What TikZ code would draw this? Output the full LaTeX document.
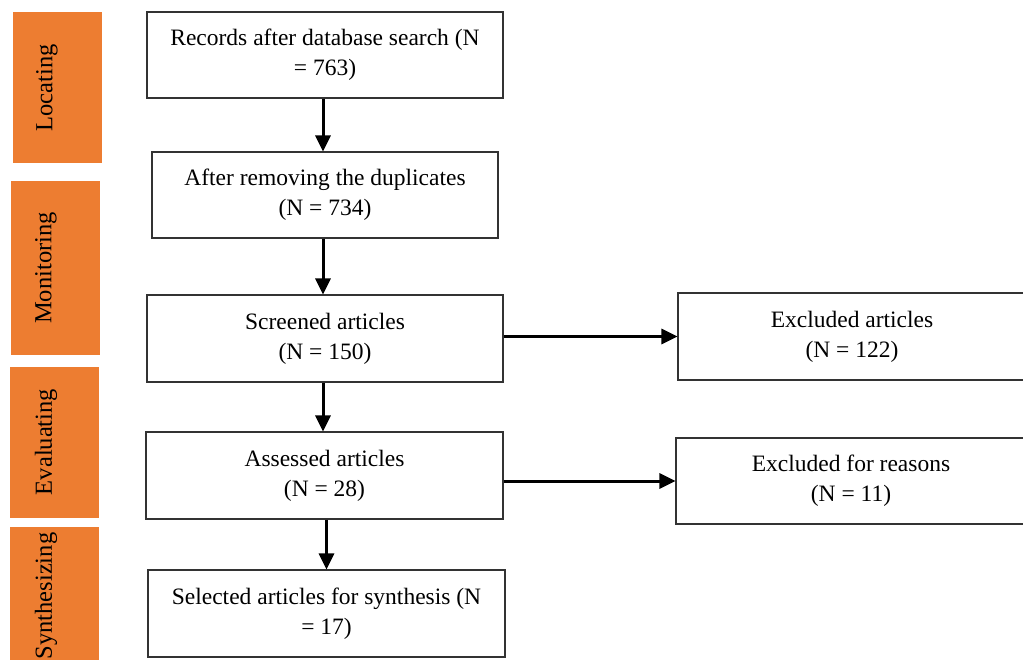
\documentclass[tikz,border=0pt]{standalone}
\usepackage{fontspec}
\setmainfont{Liberation Serif}
\usepackage{tikz}
\usetikzlibrary{calc,arrows.meta,positioning}
\definecolor{phaseorange}{RGB}{237,125,49}
\tikzset{
    stagebox/.style={draw=black!80, line width=1.1pt, rectangle, align=center, inner sep=0pt,
        font=\fontsize{23.5}{30}\selectfont},
    phasebar/.style={fill=phaseorange, draw=none, rectangle, inner sep=0pt},
    phasetext/.style={rotate=90, font=\fontsize{24.5}{28}\selectfont},
    flow/.style={line width=3pt, -{Triangle[length=16pt,width=15pt]}},
}

\begin{document}
\begin{tikzpicture}[x=1pt,y=1pt,yscale=-1,xscale=1]
    \useasboundingbox (0,0) rectangle (1023,660); %set diagram to 1023 by 660

    % Phase bars
    \node [phasebar, minimum width=89, minimum height=151] (loc) at (57.5,87.5) {};
    \node [phasetext] (loct) at (47,88) {Locating};
    \node [phasebar, minimum width=89, minimum height=174] (mon) at (55,268) {};
    \node [phasetext] (mont) at (46,268) {Monitoring};
    \node [phasebar, minimum width=89, minimum height=151] (eva) at (54.5,442.5) {};
    \node [phasetext] (evat) at (46,442) {Evaluating};
    \node [phasebar, minimum width=89, minimum height=140] (syn) at (54.5,597) {};
    \node [phasetext] (synt) at (46,596) {Synthesizing};

    % Main flow
    \node [stagebox, minimum width=356, minimum height=86] (rec) at (325,55) {Records after database search (N\\ = 763)};
    \node [stagebox, minimum width=346, minimum height=86] (dup) at (325,195) {After removing the duplicates\\ (N = 734)};
    \node [stagebox, minimum width=356, minimum height=87] (scr) at (325,338.5) {Screened articles\\ (N = 150)};
    \node [stagebox, minimum width=357, minimum height=87] (ass) at (324.5,475.5) {Assessed articles\\ (N = 28)};
    \node [stagebox, minimum width=357, minimum height=87] (sel) at (326.5,613.5) {Selected articles for synthesis (N\\ = 17)};

    % Excluded
    \node [stagebox, minimum width=348, minimum height=87] (exc) at (852,336.5) {Excluded articles\\ (N = 122)};
    \node [stagebox, minimum width=350, minimum height=86] (rea) at (851,481) {Excluded for reasons\\ (N = 11)};

    % Arrows
    \draw [flow] ($(rec.south)+(-2,0)$) -- ($(rec.south |- dup.north)+(-2,0)$);
    \draw [flow] ($(dup.south)+(-2,0)$) -- ($(dup.south |- scr.north)+(-2,0)$);
    \draw [flow] ($(scr.south)+(-2,0)$) -- ($(scr.south |- ass.north)+(-2,0)$);
    \draw [flow] (sel.north |- ass.south) -- (sel.north);
    \draw [flow] (scr.east |- exc.west) -- (exc.west);
    \draw [flow] (ass.east |- rea.west) -- (rea.west);
\end{tikzpicture}
\end{document}
